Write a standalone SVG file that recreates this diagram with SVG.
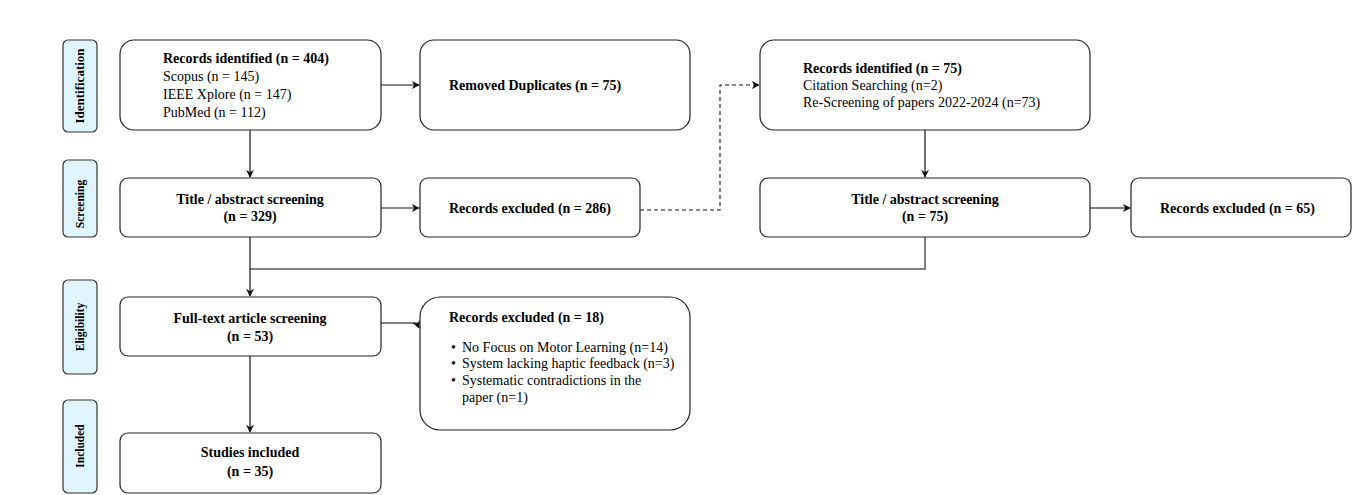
<svg xmlns="http://www.w3.org/2000/svg" width="1352" height="495" viewBox="0 0 1352 495">
<style>
.box{fill:#fff;stroke:#222;stroke-width:1.2}
.side{fill:#e0f5fd;stroke:#333;stroke-width:1.2}
text{font-family:"Liberation Serif","Times New Roman",serif;font-size:14px;fill:#000}
.b{font-weight:bold}
.c{text-anchor:middle}
.sl{font-weight:bold;text-anchor:middle;font-size:11.5px}
.ln{fill:none;stroke:#111;stroke-width:1.2}
.lg{fill:none;stroke:#555;stroke-width:1.5}
.dash{fill:none;stroke:#111;stroke-width:1.1;stroke-dasharray:4,3}
</style>
<defs>
<marker id="ar" viewBox="0 0 10 10" refX="9" refY="5" markerWidth="8" markerHeight="8" markerUnits="userSpaceOnUse" orient="auto">
<path d="M0,0 L10,5 L0,10 L3,5 z" fill="#111"/>
</marker>
</defs>
<rect width="1352" height="495" fill="#fff"/>

<g id="side-identification"><rect class="side" x="63" y="40" width="34" height="92" rx="5"/><text class="sl" style="font-size:13px" transform="translate(84,86) rotate(-90)">Identification</text></g>
<g id="side-screening"><rect class="side" x="63" y="160" width="34" height="77" rx="5"/><text class="sl" transform="translate(84,204) rotate(-90)">Screening</text></g>
<g id="side-eligibility"><rect class="side" x="63" y="280" width="34" height="94" rx="5"/><text class="sl" transform="translate(84,327) rotate(-90)">Eligibility</text></g>
<g id="side-included"><rect class="side" x="63" y="400" width="34" height="93" rx="5"/><text class="sl" transform="translate(84,446) rotate(-90)">Included</text></g>

<g id="connectors">
<path class="ln" d="M381,85 H419" marker-end="url(#ar)"/>
<path class="ln" d="M250,130 V177" marker-end="url(#ar)"/>
<path class="ln" d="M381,208 H419" marker-end="url(#ar)"/>
<path class="dash" d="M640,210 H720 V85 H759" marker-end="url(#ar)"/>
<path class="ln" d="M925,130 V177" marker-end="url(#ar)"/>
<path class="lg" d="M1090,208 H1130" marker-end="url(#ar)"/>
<path class="lg" d="M925,237 V269 H250"/>
<path class="ln" d="M250,237 V296" marker-end="url(#ar)"/>
<path class="lg" d="M381,323 H417 L419,328" marker-end="url(#ar)"/>
<path class="ln" d="M250,356 V432" marker-end="url(#ar)"/>
</g>

<g id="n-identified-404"><rect class="box" x="120" y="40" width="261" height="90" rx="14"/>
<text class="b" x="163" y="63">Records identified (n = 404)</text>
<text x="163" y="81">Scopus (n = 145)</text>
<text x="163" y="99">IEEE Xplore (n = 147)</text>
<text x="163" y="117">PubMed (n = 112)</text></g>

<g id="n-duplicates"><rect class="box" x="420" y="40" width="270" height="90" rx="14"/>
<text class="b" x="449" y="90">Removed Duplicates (n = 75)</text></g>

<g id="n-screen-329"><rect class="box" x="120" y="178" width="261" height="59" rx="8"/>
<text class="b c" x="250" y="204">Title / abstract screening</text>
<text class="b c" x="250" y="221">(n = 329)</text></g>

<g id="n-excl-286"><rect class="box" x="420" y="178" width="220" height="59" rx="8"/>
<text class="b" x="449" y="213">Records excluded (n = 286)</text></g>

<g id="n-identified-75"><rect class="box" x="760" y="40" width="330" height="90" rx="14"/>
<text class="b" x="803" y="73">Records identified (n = 75)</text>
<text x="803" y="90">Citation Searching (n=2)</text>
<text x="803" y="107">Re-Screening of papers 2022-2024 (n=73)</text></g>

<g id="n-screen-75"><rect class="box" x="760" y="178" width="330" height="59" rx="8"/>
<text class="b c" x="925" y="204">Title / abstract screening</text>
<text class="b c" x="925" y="221">(n = 75)</text></g>

<g id="n-excl-65"><rect class="box" x="1131" y="178" width="220" height="59" rx="8"/>
<text class="b" x="1160" y="213">Records excluded (n = 65)</text></g>

<g id="n-fulltext"><rect class="box" x="120" y="297" width="261" height="59" rx="8"/>
<text class="b c" x="250" y="323">Full-text article screening</text>
<text class="b c" x="250" y="341">(n = 53)</text></g>

<g id="n-excl-18"><rect class="box" x="420" y="297" width="270" height="133" rx="20"/>
<text class="b" x="449" y="322">Records excluded (n = 18)</text>
<text x="451" y="352">•</text><text x="462" y="352">No Focus on Motor Learning (n=14)</text>
<text x="451" y="368">•</text><text x="462" y="368">System lacking haptic feedback (n=3)</text>
<text x="451" y="385">•</text><text x="462" y="385">Systematic contradictions in the</text>
<text x="462" y="402">paper (n=1)</text></g>

<g id="n-included"><rect class="box" x="120" y="433" width="261" height="60" rx="8"/>
<text class="b c" x="250" y="457">Studies included</text>
<text class="b c" x="250" y="476">(n = 35)</text></g>
</svg>
